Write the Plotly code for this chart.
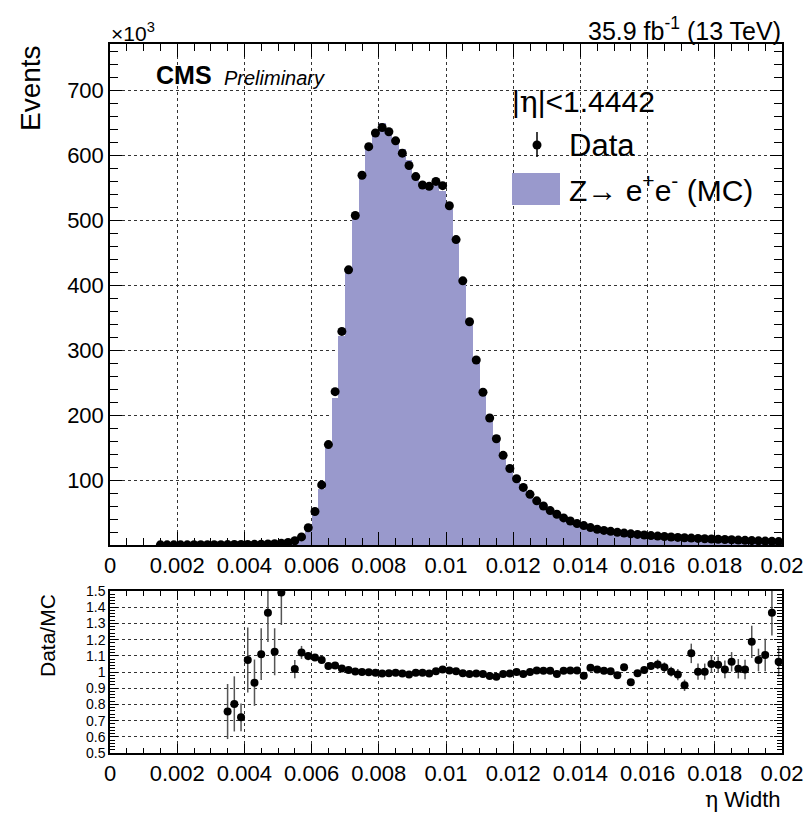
import plotly.graph_objects as go

# ---------------- data ----------------
bin_width = 0.0002
bin_centers = [round(0.0001 + bin_width * i, 5) for i in range(100)]

# data events (x10^3) per bin
data_k = [None] * 7 + [
    0.2, 0.2, 0.25, 0.3, 0.3, 0.35, 0.4, 0.45, 0.5, 0.55,          # 7-16
    0.6, 0.7, 0.8, 0.9, 1.0, 1.2, 1.5, 2.0, 2.6, 4.0,              # 17-26
    6.5, 12.5, 26.5, 51.5, 92.5, 154.5, 236, 328.7, 423.5, 507,    # 27-36
    569, 613, 634, 642.5, 636, 622, 603, 584, 567, 554,            # 37-46
    552, 559.5, 553, 522, 470, 406.5, 343.6, 284.7, 235, 195.5,    # 47-56
    163.5, 138, 117.8, 102, 88.6, 78, 68, 60, 53, 47.4,            # 57-66
    41.7, 37, 33, 29.9, 26.8, 24.2, 22.5, 21, 19.5, 18.3,          # 67-76
    17.2, 16.3, 15.4, 14.5, 13.7, 13, 12.3, 11.7, 11.1, 10.6,      # 77-86
    10.1, 9.7, 9.3, 8.8, 8.4, 8, 7.6, 7.2, 6.8, 6.4,               # 87-96
    6.0, 5.6, 5.2,                                                 # 97-99
]

# Data / MC ratio per bin
ratio = [None] * 17 + [
    0.756, 0.803, 0.72, 1.074, 0.934, 1.11, 1.365, 1.125, 1.49, None,   # 17-26
    1.018, 1.121, 1.098, 1.09, 1.074, 1.037, 1.04, 1.022, 1.012, 1.003, # 27-36
    1.0, 0.998, 0.995, 0.99, 0.993, 0.995, 0.99, 0.985, 0.995, 0.995,   # 37-46
    0.99, 1.005, 1.015, 1.01, 1.005, 0.993, 0.987, 0.99, 0.987, 0.975,  # 47-56
    0.97, 0.987, 0.99, 1.0, 0.987, 1.0, 1.01, 1.008, 1.008, 0.987,      # 57-66
    1.008, 1.01, 1.01, 0.977, 1.027, 1.016, 1.008, 1.004, 0.98, 1.029,  # 67-76
    0.937, 0.992, 1.012, 1.037, 1.047, 1.029, 1.002, 0.984, 0.918, 1.115,  # 77-86
    1.002, 1.002, 1.049, 1.045, 1.016, 1.063, 1.02, 1.016, 1.186, 1.074,   # 87-96
    1.105, 1.365, 1.063,                                                   # 97-99
]

ratio_err = [None] * 17 + [
    0.17, 0.17, 0.085, 0.2, 0.143, 0.16, 0.18, 0.145, 0.2, None,
    0.056, 0.04, 0.025, 0.015, 0.01, 0.008, 0.008, 0.008, 0.008, 0.008,
    0.006, 0.006, 0.006, 0.006, 0.006, 0.006, 0.006, 0.006, 0.006, 0.006,
    0.006, 0.006, 0.006, 0.006, 0.006, 0.006, 0.006, 0.006, 0.006, 0.006,
    0.006, 0.006, 0.007, 0.007, 0.008, 0.008, 0.009, 0.009, 0.01, 0.01,
    0.01, 0.011, 0.012, 0.015, 0.015, 0.016, 0.016, 0.017, 0.018, 0.02,
    0.02, 0.02, 0.02, 0.025, 0.03, 0.03, 0.03, 0.035, 0.035, 0.06,
    0.05, 0.05, 0.055, 0.05, 0.055, 0.06, 0.06, 0.06, 0.1, 0.07,
    0.1, 0.14, 0.09,
]

# MC expectation derived from data and ratio
mc_k = [(d / r) if (d is not None and r is not None) else 0 for d, r in zip(data_k, ratio)]

x_tickvals = [0, 0.002, 0.004, 0.006, 0.008, 0.01, 0.012, 0.014, 0.016, 0.018, 0.02]
x_ticktext = ["0", "0.002", "0.004", "0.006", "0.008", "0.01", "0.012", "0.014", "0.016", "0.018", "0.02"]
y_tickvals = [100, 200, 300, 400, 500, 600, 700]
r_tickvals = [0.5, 0.6, 0.7, 0.8, 0.9, 1.0, 1.1, 1.2, 1.3, 1.4, 1.5]
r_ticktext = ["0.5", "0.6", "0.7", "0.8", "0.9", "1", "1.1", "1.2", "1.3", "1.4", "1.5"]

FONT = "Liberation Sans, Arial, Helvetica, sans-serif"
ETA = '<span style="font-family:DejaVu Serif">η</span>'
MC_COLOR = "rgb(153,153,204)"

# ---------------- geometry helpers (pixel -> paper) ----------------
W, H = 806, 814
L, R, T, B = 110, 24, 44, 61
PW, PH = W - L - R, H - T - B


def px(xp):
    return (xp - L) / PW


def py(yp):
    return (H - B - yp) / PH


fig = go.Figure()

fig.add_trace(go.Bar(
    x=bin_centers, y=mc_k, width=bin_width,
    marker=dict(color=MC_COLOR, line=dict(width=0)),
    xaxis="x", yaxis="y", hoverinfo="skip",
))
fig.add_trace(go.Scatter(
    x=bin_centers, y=data_k, mode="markers",
    marker=dict(color="black", size=9),
    xaxis="x", yaxis="y",
))
fig.add_trace(go.Scatter(
    x=bin_centers, y=ratio, mode="markers",
    marker=dict(color="black", size=8),
    error_y=dict(type="data", array=ratio_err, visible=True, thickness=1.5, width=0, color="#555555"),
    xaxis="x2", yaxis="y2", cliponaxis=True,
))

axis_common = dict(
    showline=True, linecolor="black", linewidth=1.5, mirror="ticks",
    ticks="inside", tickcolor="black",
    showgrid=True, gridcolor="#333333", griddash="dot", gridwidth=1,
    zeroline=False, automargin=False,
    tickfont=dict(family=FONT, size=22, color="black"),
)

upper_bottom = py(545)
lower_top = py(591)

fig.update_layout(
    width=W, height=H, autosize=False,
    margin=dict(l=L, r=R, t=T, b=B, autoexpand=False),
    paper_bgcolor="white", plot_bgcolor="white",
    showlegend=False, bargap=0,
    font=dict(family=FONT, color="black"),
    xaxis=dict(
        axis_common, domain=[0, 1], anchor="y", range=[0, 0.02],
        tickmode="array", tickvals=x_tickvals, ticktext=x_ticktext, ticklen=13,
        minor=dict(tick0=0, dtick=0.0005, ticks="inside", ticklen=7, tickcolor="black", showgrid=False),
    ),
    yaxis=dict(
        axis_common, domain=[upper_bottom, 1], anchor="x", range=[0, 771],
        tickmode="array", tickvals=y_tickvals, ticklen=12,
        minor=dict(tick0=0, dtick=20, ticks="inside", ticklen=8, tickcolor="black", showgrid=False),
    ),
    xaxis2=dict(
        axis_common, domain=[0, 1], anchor="y2", range=[0, 0.02],
        tickmode="array", tickvals=x_tickvals, ticktext=x_ticktext, ticklen=9,
        minor=dict(tick0=0, dtick=0.0005, ticks="inside", ticklen=5, tickcolor="black", showgrid=False),
    ),
    yaxis2=dict(
        axis_common, domain=[0, lower_top], anchor="x2", range=[0.5, 1.5],
        tickmode="array", tickvals=r_tickvals, ticktext=r_ticktext, ticklen=8,
        tickfont=dict(family=FONT, size=14, color="black"),
        minor=dict(tick0=0.5, dtick=0.02, ticks="inside", ticklen=5, tickcolor="black", showgrid=False),
    ),
)

annotations = [
    dict(text="Events", x=px(30), y=py(88), textangle=-90, font=dict(size=28)),
    dict(text="Data/MC", x=px(47), y=py(636), textangle=-90, font=dict(size=21)),
    dict(text=ETA + " Width", x=px(783), y=py(800), xanchor="right", font=dict(size=22)),
    dict(text="35.9 fb<sup>-1</sup> (13 TeV)", x=px(783), y=py(29), xanchor="right", font=dict(size=25)),
    dict(text="×10<sup>3</sup>", x=px(109), y=py(32), xanchor="left", font=dict(size=21)),
    dict(text="<b>CMS</b>", x=px(154), y=py(75), xanchor="left", font=dict(size=25)),
    dict(text="<i>Preliminary</i>", x=px(222), y=py(78), xanchor="left", font=dict(size=20)),
    dict(text="|" + ETA + "|<1.4442", x=px(510), y=py(101), xanchor="left", font=dict(size=30)),
    dict(text="Data", x=px(567), y=py(145), xanchor="left", font=dict(size=31)),
    dict(text="Z→ e<sup>+</sup>e<sup>-</sup> (MC)", x=px(567), y=py(188), xanchor="left", font=dict(size=30)),
]
for a in annotations:
    a.setdefault("xanchor", "center")
    a.update(xref="paper", yref="paper", showarrow=False, yanchor="middle")
    a["font"] = dict(family=FONT, color="black", **a["font"])
fig.update_layout(annotations=annotations)

shapes = [
    # MC legend box
    dict(type="rect", xref="paper", yref="paper",
         x0=px(512), x1=px(560), y0=py(205), y1=py(173),
         fillcolor=MC_COLOR, line=dict(width=0)),
    # Data legend error bar
    dict(type="line", xref="paper", yref="paper",
         x0=px(537), x1=px(537), y0=py(132), y1=py(157),
         line=dict(color="black", width=1.5)),
    # Data legend marker
    dict(type="circle", xref="paper", yref="paper",
         x0=px(532.5), x1=px(541.5), y0=py(149.5), y1=py(140.5),
         fillcolor="black", line=dict(color="black", width=0)),
]
fig.update_layout(shapes=shapes)

fig.write_html(
    "out.html",
    config={"displayModeBar": False, "responsive": False},
    post_script="document.body.style.margin='0';document.body.style.overflow='hidden';",
)
